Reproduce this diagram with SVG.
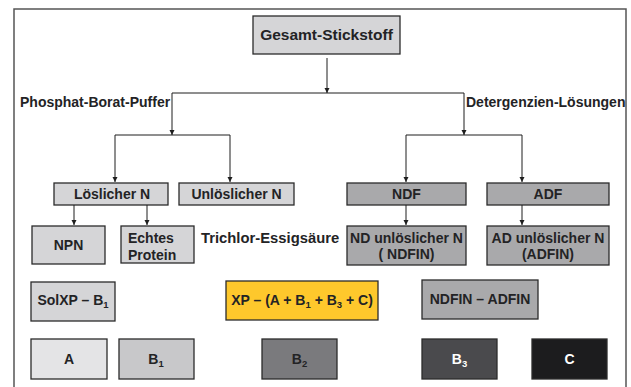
<svg xmlns="http://www.w3.org/2000/svg" width="631" height="387" viewBox="0 0 631 387">
<defs>
<style>
text{font-family:"Liberation Sans",Arial,sans-serif;font-weight:bold;fill:#232325;}
.lbl{font-size:14px;text-anchor:middle;}
.side{font-size:14px;}
.box{stroke:#2b2b2b;stroke-width:1.3;}
.l1{fill:#d5d5d7;}
.l2{fill:#a9a9ab;}
.conn path{fill:none;stroke:#1e1e1e;stroke-width:1;}
.sub{font-size:9.5px;}
.w{fill:#ffffff;}
</style>
<marker id="ah" markerUnits="userSpaceOnUse" markerWidth="6" markerHeight="6" refX="5" refY="3" orient="auto">
<path d="M0,0.5 L5,3 L0,5.5 z" fill="#1e1e1e"/>
</marker>
</defs>
<rect width="631" height="387" fill="#ffffff"/>
<path d="M14,387 V9 H626 V387" fill="none" stroke="#555" stroke-width="1.5"/>

<g id="n-gesamt"><rect class="box l1" x="253" y="16" width="147" height="38"/><text x="326.5" y="40" class="lbl" style="font-size:15.5px">Gesamt-Stickstoff</text></g>
<g id="t-phosphat"><text x="20" y="107" class="side">Phosphat-Borat-Puffer</text></g>
<g id="t-deterg"><text x="466" y="107" class="side">Detergenzien-Lösungen</text></g>
<g id="n-loes"><rect class="box l1" x="54" y="183" width="114" height="22"/><text x="112" y="199" class="lbl">Löslicher N</text></g>
<g id="n-unloes"><rect class="box l1" x="179" y="183" width="115" height="22"/><text x="236.5" y="199" class="lbl">Unlöslicher N</text></g>
<g id="n-ndf"><rect class="box l2" x="347" y="183" width="119" height="22"/><text x="406.5" y="199" class="lbl">NDF</text></g>
<g id="n-adf"><rect class="box l2" x="487" y="183" width="122" height="22"/><text x="548" y="199" class="lbl">ADF</text></g>
<g id="n-npn"><rect class="box l1" x="32" y="226" width="73" height="38"/><text x="68.5" y="250" class="lbl">NPN</text></g>
<g id="n-echt"><rect class="box l1" x="121" y="226" width="73" height="37"/><text x="128" y="243" class="side">Echtes</text><text x="128" y="260" class="side">Protein</text></g>
<g id="t-trichlor"><text x="201" y="243" class="side" style="font-size:14.8px">Trichlor-Essigsäure</text></g>
<g id="n-ndin"><rect class="box l2" x="347" y="226" width="119" height="39"/><text x="406.5" y="243" class="lbl">ND unlöslicher N</text><text x="406.5" y="259" class="lbl">( NDFIN)</text></g>
<g id="n-adin"><rect class="box l2" x="487" y="226" width="122" height="39"/><text x="548" y="243" class="lbl">AD unlöslicher N</text><text x="548" y="259" class="lbl">(ADFIN)</text></g>
<g id="n-solxp"><rect class="box l1" x="31" y="282" width="84" height="39"/><text x="73" y="305" class="lbl">SolXP – B<tspan class="sub" dy="3">1</tspan></text></g>
<g id="n-xp"><rect class="box" fill="#fec82c" x="226" y="281" width="152" height="39"/><text x="302" y="305" class="lbl">XP – (A + B<tspan class="sub" dy="3">1</tspan><tspan dy="-3"> + B</tspan><tspan class="sub" dy="3">3</tspan><tspan dy="-3"> + C)</tspan></text></g>
<g id="n-ndfin"><rect class="box l2" x="422" y="280" width="116" height="39"/><text x="480" y="304" class="lbl">NDFIN – ADFIN</text></g>
<g id="n-a"><rect class="box" fill="#e4e4e6" x="31" y="339" width="76" height="40"/><text x="69" y="364" class="lbl">A</text></g>
<g id="n-b1"><rect class="box" fill="#c8c8ca" x="119" y="339" width="75" height="40"/><text x="156" y="364" class="lbl">B<tspan class="sub" dy="3">1</tspan></text></g>
<g id="n-b2"><rect class="box" fill="#7a7a7d" x="262" y="339" width="75" height="40"/><text x="299.5" y="364" class="lbl">B<tspan class="sub" dy="3">2</tspan></text></g>
<g id="n-b3"><rect class="box" fill="#4a4a4d" x="422" y="339" width="75" height="40"/><text x="459.5" y="364" class="lbl w">B<tspan class="sub" dy="3">3</tspan></text></g>
<g id="n-c"><rect class="box" fill="#1c1c1e" x="532" y="339" width="75" height="40"/><text x="569.5" y="364" class="lbl w">C</text></g>

<g id="connectors" class="conn">
<path d="M327,58 V93" marker-end="url(#ah)"/>
<path d="M172,93 H464"/>
<path d="M172,93 V135" marker-end="url(#ah)"/>
<path d="M464,93 V135" marker-end="url(#ah)"/>
<path d="M115,135 H230"/>
<path d="M406,135 H522"/>
<path d="M115,135 V182" marker-end="url(#ah)"/>
<path d="M230,135 V182" marker-end="url(#ah)"/>
<path d="M406,135 V182" marker-end="url(#ah)"/>
<path d="M522,135 V182" marker-end="url(#ah)"/>
<path d="M74,205 V225" marker-end="url(#ah)"/>
<path d="M147,205 V225" marker-end="url(#ah)"/>
<path d="M406,205 V225" marker-end="url(#ah)"/>
<path d="M522,205 V225" marker-end="url(#ah)"/>
</g>
</svg>
